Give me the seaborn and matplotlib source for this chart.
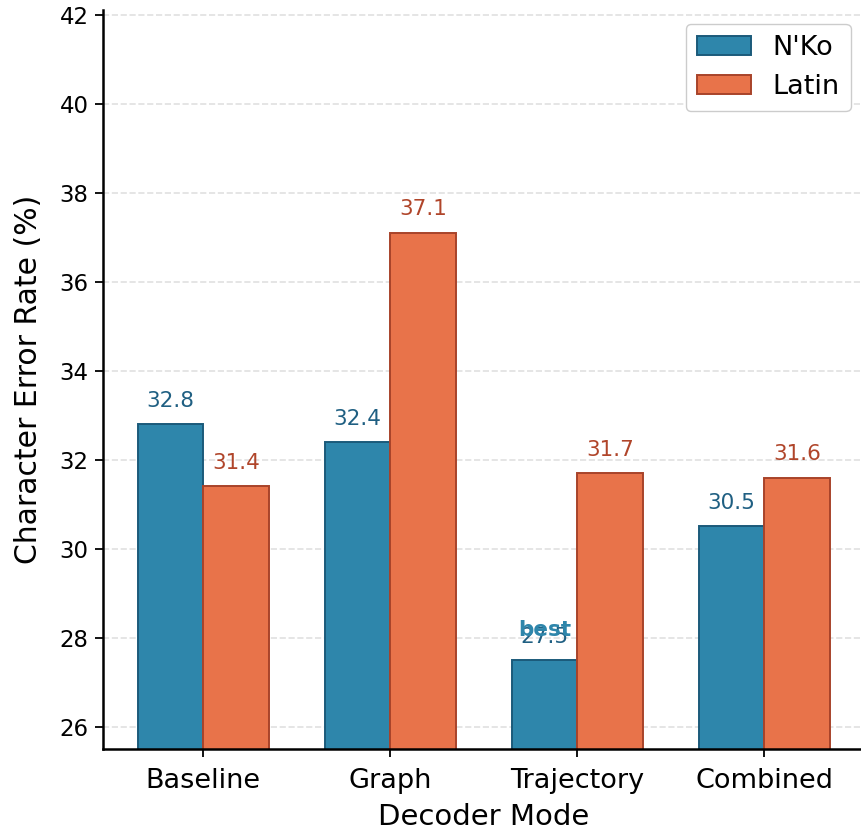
import pandas as pd
import numpy as np
import matplotlib
matplotlib.use("Agg")
import matplotlib.pyplot as plt
import seaborn as sns
from matplotlib.patches import Patch

modes = ["Baseline", "Graph", "Trajectory", "Combined"]
scripts = ["N'Ko", "Latin"]
nko_cer = [32.8, 32.4, 27.5, 30.5]
latin_cer = [31.4, 37.1, 31.7, 31.6]

fill = {"N'Ko": "#2E86AB", "Latin": "#E8734A"}
edge = {"N'Ko": "#1B5A7A", "Latin": "#A8432A"}
label_col = {"N'Ko": "#1F5F82", "Latin": "#B0452A"}

df = pd.DataFrame({
    "mode": modes * 2,
    "script": [scripts[0]] * 4 + [scripts[1]] * 4,
    "cer": nko_cer + latin_cer,
})

sns.set_style("white")
plt.rcParams['font.family'] = ['DejaVu Sans']
plt.rcParams.update({"text.color": "black", "axes.labelcolor": "black",
                     "xtick.color": "black", "ytick.color": "black"})

fig = plt.figure(figsize=(8.62, 8.31), dpi=100)
ax = fig.add_axes([0.1195, 0.0987, 0.883, 0.889])

sns.barplot(data=df, x="mode", y="cer", hue="script", order=modes,
            hue_order=scripts, palette=fill, width=0.7, saturation=1,
            legend=False, ax=ax)

for cont, s in zip(ax.containers, scripts):
    for bar in cont:
        bar.set_edgecolor(edge[s])
        bar.set_linewidth(1.4)
        h = bar.get_height()
        ax.text(bar.get_x() + bar.get_width() / 2, h + 0.3, f"{h:.1f}",
                ha="center", va="bottom", fontsize=15.5, color=label_col[s])

# mark best N'Ko result
best = int(np.argmin(nko_cer))
b = ax.containers[0][best]
ax.text(b.get_x() + b.get_width() / 2, b.get_height() + 0.45, "best",
        ha="center", va="bottom", fontsize=15.5, fontweight="bold",
        color="#2E86AB")

ax.set_xlim(-0.535, 3.535)
ax.set_ylim(25.5, 42.1)
ax.set_yticks(np.arange(26, 43, 2))
ax.yaxis.grid(True, linestyle="--", color="#e0e0e0", linewidth=1.2)
ax.set_axisbelow(True)
sns.despine(ax=ax)
ax.tick_params(axis="both", length=5.5, width=1.3, left=True, bottom=True)
ax.tick_params(axis="y", labelsize=16.5, pad=5)
ax.tick_params(axis="x", labelsize=19.5, pad=8.5)
for sp in ["left", "bottom"]:
    ax.spines[sp].set_color("black")
    ax.spines[sp].set_linewidth(1.8)

ax.set_xlabel("Decoder Mode", fontsize=21, labelpad=6)
ax.set_ylabel("Character Error Rate (%)", fontsize=21.5, labelpad=12)

handles = [Patch(facecolor=fill[s], edgecolor=edge[s], linewidth=1.4, label=s)
           for s in scripts]
ax.legend(handles=handles, loc="upper right", fontsize=19.5, framealpha=1,
          edgecolor="#cccccc")

fig.savefig("out.png", dpi=100)
